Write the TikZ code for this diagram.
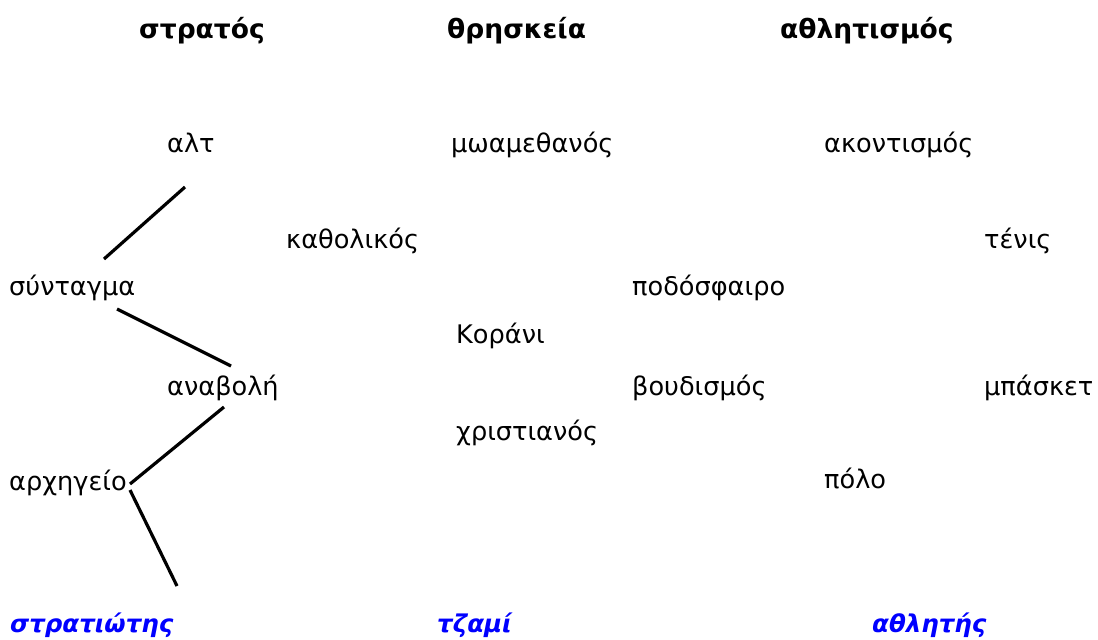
\documentclass[tikz,border=0pt]{standalone}
\usepackage{fontspec}
\setmainfont{DejaVu Sans}
\definecolor{labelblue}{RGB}{0,0,255}
\tikzset{
  word/.style={anchor=base west, inner sep=0pt, font=\fontsize{25.6}{30}\selectfont},
  head/.style={word, font=\fontsize{26.5}{31}\selectfont\bfseries},
  answer/.style={word, text=labelblue, font=\fontsize{24.5}{29}\selectfont\bfseries\itshape},
  link/.style={line width=3.2pt}
}
\begin{document}
\begin{tikzpicture}[x=1pt,y=-1pt]
\useasboundingbox (0,0) rectangle (1098,640);
% headers
\node[head] (h1) at (139,38) {στρατός};
\node[head] (h2) at (447,38) {θρησκεία};
\node[head] (h3) at (780,38) {αθλητισμός};
% words
\node[word] (alt) at (167,152) {αλτ};
\node[word] (mwam) at (451,152) {μωαμεθανός};
\node[word] (akon) at (824,152) {ακοντισμός};
\node[word] (kath) at (286,248) {καθολικός};
\node[word] (tenis) at (984,248) {τένις};
\node[word] (synt) at (9,295) {σύνταγμα};
\node[word] (podo) at (632,295) {ποδόσφαιρο};
\node[word] (kor) at (456,343) {Κοράνι};
\node[word] (anab) at (167,395) {αναβολή};
\node[word] (boud) at (632,395) {βουδισμός};
\node[word] (mpask) at (984,395) {μπάσκετ};
\node[word] (xrist) at (456,440) {χριστιανός};
\node[word] (arx) at (9,490) {αρχηγείο};
\node[word] (polo) at (824,488) {πόλο};
% answers
\node[answer] (a1) at (10,632) {στρατιώτης};
\node[answer] (a2) at (437,632) {τζαμί};
\node[answer] (a3) at (872,632) {αθλητής};
% connector ends
\coordinate (c1a) at (185,187);
\coordinate (c1b) at (104,259);
\coordinate (c2a) at (117,309);
\coordinate (c2b) at (231,366);
\coordinate (c3a) at (224,407);
\coordinate (c3b) at (130,484);
\coordinate (c4a) at (130,490);
\coordinate (c4b) at (177,586);
\draw[link] (c1a) -- (c1b);
\draw[link] (c2a) -- (c2b);
\draw[link] (c3a) -- (c3b);
\draw[link] (c4a) -- (c4b);
\end{tikzpicture}
\end{document}
